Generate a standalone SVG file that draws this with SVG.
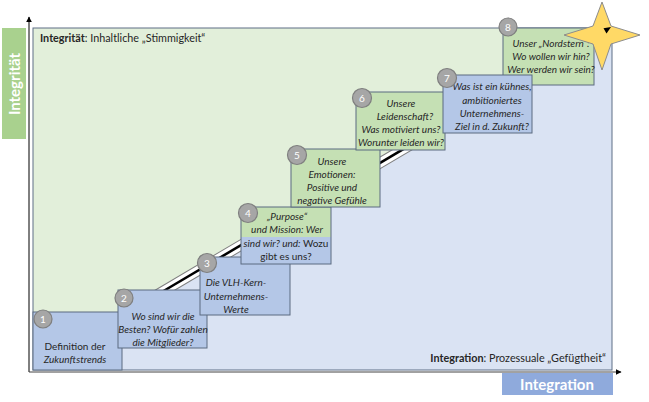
<svg xmlns="http://www.w3.org/2000/svg" width="649" height="402" viewBox="0 0 649 402">
<defs>
<style>
.t{font-family:Lato,"Liberation Sans",sans-serif;font-size:10px;fill:#262626;text-anchor:middle}
.i{font-style:italic}
.bb{fill:#b4c7e7;stroke:#5b6b80;stroke-width:1}
.bg{fill:#c5e0b4;stroke:#5b6b80;stroke-width:1}
.c{fill:#a6a6a6;stroke:#7f7f7f;stroke-width:1.2}
.n{font-family:Lato,"Liberation Sans",sans-serif;font-size:10px;fill:#fff;text-anchor:middle}
.lbl{font-family:Lato,"Liberation Sans",sans-serif;font-size:15px;font-weight:bold;fill:#fff;text-anchor:middle}
.cap{font-family:Lato,"Liberation Sans",sans-serif;font-size:10.8px;fill:#262626}
</style>
<marker id="ah" viewBox="0 0 10 10" refX="9" refY="5" markerWidth="6" markerHeight="6" orient="auto" markerUnits="userSpaceOnUse">
<path d="M0,0 L10,5 L0,10 z" fill="#000"/>
</marker>
</defs>
<rect width="649" height="402" fill="#fff"/>
<g id="background">
<rect x="33" y="28" width="579" height="342" fill="#e2efda"/>
<polygon points="608,28 612,28 612,370 122,370 122,315 140,304.8" fill="#dae3f3"/>
<rect x="33" y="28" width="579" height="342" fill="none" stroke="#5f6f86" stroke-width="1"/>
<text class="cap" x="40" y="42"><tspan font-weight="bold">Integrität</tspan>: Inhaltliche „Stimmigkeit“</text>
<text class="cap" x="606" y="362" text-anchor="end"><tspan font-weight="bold">Integration</tspan>: Prozessuale  „Gefügtheit“</text>
</g>
<g id="axes">
<line x1="29" y1="372" x2="29" y2="17" stroke="#000" stroke-width="1" marker-end="url(#ah)"/>
<line x1="29" y1="372" x2="621" y2="372" stroke="#444" stroke-width="1" marker-end="url(#ah)"/>
</g>
<g id="label-integritaet">
<rect x="2" y="28" width="24" height="111" fill="#a9d18e"/>
<text class="lbl" transform="translate(19.5,84) rotate(-90)">Integrität</text>
</g>
<g id="label-integration">
<rect x="502" y="373" width="111" height="22" fill="#8faadc"/>
<text class="lbl" x="557" y="389.5">Integration</text>
</g>
<g id="connectors">
<line x1="150" y1="299" x2="604" y2="30.4" stroke="#7f7f7f" stroke-width="11"/>
<line x1="150" y1="299" x2="604" y2="30.4" stroke="#fff" stroke-width="9"/>
<line x1="150" y1="299" x2="604" y2="30.4" stroke="#000" stroke-width="2.5"/>
</g>
<g id="node1">
<rect class="bb" x="33" y="312" width="89" height="58"/>
<text class="t" x="75" y="350">Definition der</text>
<text class="t i" x="75" y="362.5">Zukunftstrends</text>
<circle class="c" cx="43" cy="319" r="9"/><text class="n" x="43" y="322.5">1</text>
</g>
<g id="node2">
<rect class="bb" x="118" y="290" width="89" height="58"/>
<text class="t i" x="163" y="320">Wo sind wir die</text>
<text class="t i" x="163" y="333">Besten? Wofür zahlen</text>
<text class="t i" x="163" y="346">die Mitglieder?</text>
<circle class="c" cx="124" cy="298" r="9"/><text class="n" x="124" y="301.5">2</text>
</g>
<g id="node3">
<rect class="bb" x="200" y="257" width="90" height="58"/>
<text class="t i" x="236" y="286">Die VLH-Kern-</text>
<text class="t i" x="236" y="300">Unternehmens-</text>
<text class="t i" x="236" y="313">Werte</text>
<circle class="c" cx="207" cy="263" r="9.5"/><text class="n" x="207" y="266.5">3</text>
</g>
<g id="node4">
<rect x="241" y="207" width="90" height="30" fill="#c5e0b4"/>
<rect x="241" y="237" width="90" height="27" fill="#b4c7e7"/>
<rect x="241" y="207" width="90" height="57" fill="none" stroke="#5b6b80" stroke-width="1"/>
<text class="t i" x="287" y="219.5">„Purpose“</text>
<text class="t i" x="287" y="232.5">und Mission: Wer</text>
<text class="t" x="286" y="246.5"><tspan font-style="italic">sind wir? und:</tspan> Wozu</text>
<text class="t" x="286" y="259.5">gibt es uns?</text>
<circle class="c" cx="248" cy="213" r="9.5"/><text class="n" x="248" y="216.5">4</text>
</g>
<g id="node5">
<rect class="bg" x="291" y="149" width="89" height="58"/>
<text class="t i" x="332" y="165">Unsere</text>
<text class="t i" x="332" y="178">Emotionen:</text>
<text class="t i" x="332" y="191">Positive und</text>
<text class="t i" x="332" y="204">negative Gefühle</text>
<circle class="c" cx="297" cy="155" r="9.5"/><text class="n" x="297" y="158.5">5</text>
</g>
<g id="node6">
<rect class="bg" x="356" y="92" width="89" height="58"/>
<text class="t i" x="401" y="107">Unsere</text>
<text class="t i" x="405" y="120">Leidenschaft?</text>
<text class="t i" x="401" y="133">Was motiviert uns?</text>
<text class="t i" x="401" y="146">Worunter leiden wir?</text>
<circle class="c" cx="362" cy="98" r="9.5"/><text class="n" x="362" y="101.5">6</text>
</g>
<g id="node8">
<rect class="bg" x="503" y="28" width="91" height="57"/>
<text class="t i" x="551" y="47">Unser „Nordstern“:</text>
<text class="t i" x="551" y="60">Wo wollen wir hin?</text>
<text class="t i" x="551" y="73">Wer werden wir sein?</text>
<circle class="c" cx="508" cy="27" r="9"/><text class="n" x="508" y="30.5">8</text>
</g>
<g id="node7">
<rect class="bb" x="443" y="75" width="89" height="58"/>
<text class="t i" x="492" y="90">Was ist ein kühnes,</text>
<text class="t i" x="492" y="104">ambitioniertes</text>
<text class="t i" x="492" y="117">Unternehmens-</text>
<text class="t i" x="492" y="130">Ziel in d. Zukunft?</text>
<circle class="c" cx="447" cy="78" r="9.5"/><text class="n" x="447" y="81.5">7</text>
</g>
<g id="star">
<polygon points="602,2 611,26 640,35 611,44 602,70 593,44 564,35 593,26" fill="#ffd966" stroke="#8c8c8c" stroke-width="1"/>
</g>
<g id="arrow-tip">
<path d="M611,27 L603.5,28.3 L606.5,33.5 z" fill="#000"/>
</g>
</svg>
